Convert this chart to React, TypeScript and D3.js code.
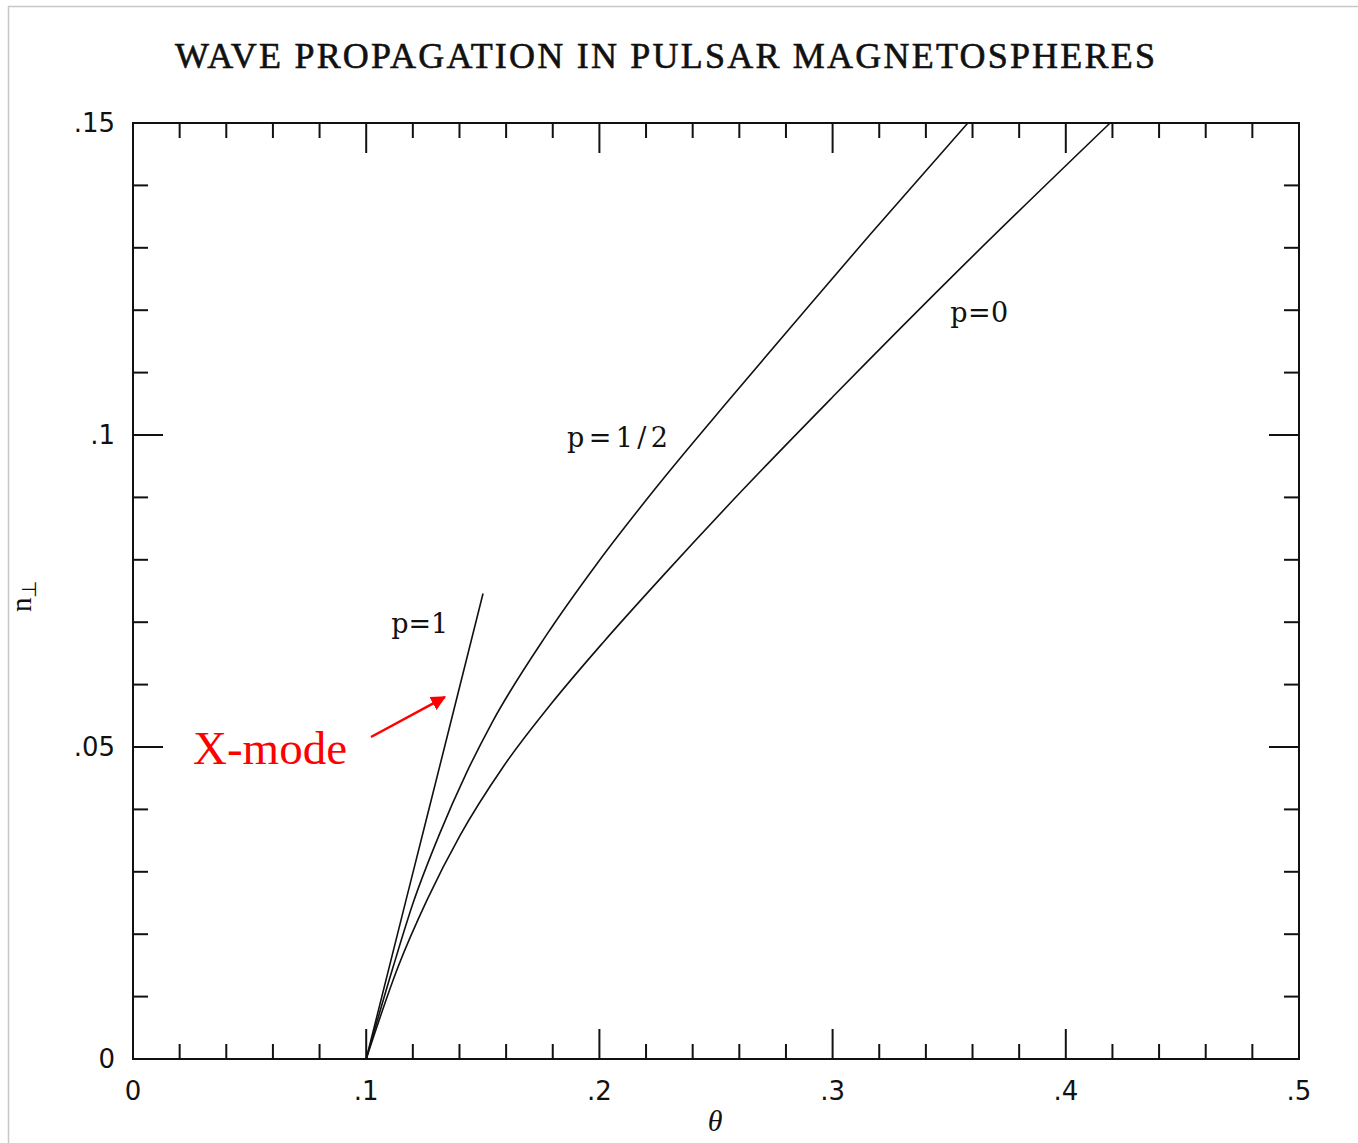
import React from 'react';
import * as d3 from 'd3';

// curves: [theta, n_perp]
const curveP1: [number, number][] = [
  [0.1, 0], [0.1171, 0.0255], [0.1336, 0.05], [0.1501, 0.0746],
];
const curveP12: [number, number][] = [
  [0.1, 0], [0.1115, 0.0147], [0.1201, 0.025], [0.1316, 0.0362], [0.1428, 0.0457],
  [0.1538, 0.0538], [0.1774, 0.068], [0.1988, 0.0793], [0.2246, 0.0917], [0.256, 0.1058],
  [0.286, 0.119], [0.316, 0.1321], [0.358, 0.15],
];
const curveP0: [number, number][] = [
  [0.1, 0], [0.1136, 0.0147], [0.1261, 0.0255], [0.1402, 0.0358], [0.1587, 0.0468],
  [0.1795, 0.057], [0.2017, 0.0668], [0.2274, 0.0775], [0.2617, 0.0913], [0.3003, 0.1062],
  [0.3575, 0.1277], [0.419, 0.15],
];

const curveLabels = ['p=1', 'p=1/2', 'p=0'];
const title = 'WAVE PROPAGATION IN PULSAR MAGNETOSPHERES';
const xDomain: [number, number] = [0, 0.5];
const yDomain: [number, number] = [0, 0.15];

const W = 1358;
const H = 1143;
const margin = { left: 133, right: W - 1299, top: 123, bottom: H - 1059 };

const fmt = (d: number) => (d === 0 ? '0' : d3.format('.2~f')(d).replace(/^0/, ''));

export default function App() {
  const x = d3.scaleLinear().domain(xDomain).range([margin.left, W - margin.right]);
  const y = d3.scaleLinear().domain(yDomain).range([H - margin.bottom, margin.top]);

  const line = d3.line<[number, number]>()
    .x(d => x(d[0]))
    .y(d => y(d[1]))
    .curve(d3.curveMonotoneX);

  const xMinor = x.ticks(25);
  const xMajor = x.ticks(5);
  const yMinor = y.ticks(15);
  const yMajor = y.ticks(3);
  const isMajorX = (v: number) => xMajor.some(m => Math.abs(m - v) < 1e-9);
  const isMajorY = (v: number) => yMajor.some(m => Math.abs(m - v) < 1e-9);

  const x0 = x(xDomain[0]), x1 = x(xDomain[1]);
  const y0 = y(yDomain[0]), y1 = y(yDomain[1]);

  const labelFont = { fontFamily: '"DejaVu Serif", serif', fontSize: 27, fill: '#111' };

  return (
    <svg width={W} height={H} style={{ position: 'absolute', left: 0, top: 0, display: 'block', background: '#fff' }}>
      {/* page border */}
      <rect x={8.5} y={6.5} width={W} height={H} fill="none" stroke="#c8c8c8" strokeWidth={1.5} />

      <text x={175} y={68} textLength={980} lengthAdjust="spacing"
        style={{ fontFamily: '"Liberation Serif", serif', fontSize: 36, fill: '#111' }}
        stroke="#111" strokeWidth={0.6}>
        {title}
      </text>

      {/* frame */}
      <rect x={x0} y={y1} width={x1 - x0} height={y0 - y1} fill="none" stroke="#111" strokeWidth={2} />

      {/* x ticks, bottom and top */}
      {xMinor.map((v, i) => {
        const len = isMajorX(v) ? 30 : 15;
        return (
          <g key={'xt' + i} stroke="#111" strokeWidth={2}>
            <line x1={x(v)} x2={x(v)} y1={y0} y2={y0 - len} />
            <line x1={x(v)} x2={x(v)} y1={y1} y2={y1 + len} />
          </g>
        );
      })}
      {/* y ticks, left and right */}
      {yMinor.map((v, i) => {
        const len = isMajorY(v) ? 30 : 15;
        return (
          <g key={'yt' + i} stroke="#111" strokeWidth={2}>
            <line x1={x0} x2={x0 + len} y1={y(v)} y2={y(v)} />
            <line x1={x1} x2={x1 - len} y1={y(v)} y2={y(v)} />
          </g>
        );
      })}

      {/* tick labels */}
      {xMajor.map((v, i) => (
        <text key={'xl' + i} x={x(v)} y={1100} textAnchor="middle"
          style={{ fontFamily: '"DejaVu Sans", sans-serif', fontSize: 26, fill: '#111' }}>
          {fmt(v)}
        </text>
      ))}
      {yMajor.map((v, i) => (
        <text key={'yl' + i} x={115} y={y(v) + 9} textAnchor="end"
          style={{ fontFamily: '"DejaVu Sans", sans-serif', fontSize: 26, fill: '#111' }}>
          {fmt(v)}
        </text>
      ))}

      {/* axis titles */}
      <text x={715} y={1131} textAnchor="middle"
        style={{ fontFamily: '"Liberation Serif", serif', fontStyle: 'italic', fontSize: 30, fill: '#111' }}>
        θ
      </text>
      <text transform="translate(31,612) rotate(-90)"
        style={{ fontFamily: '"Liberation Serif", serif', fontSize: 29, fill: '#111' }}>
        n<tspan dy={5} fontSize={20}>⊥</tspan>
      </text>

      {/* curves */}
      {[curveP1, curveP12, curveP0].map((c, i) => (
        <path key={'c' + i} d={line(c) || ''} fill="none" stroke="#111" strokeWidth={1.6} />
      ))}

      {/* curve labels */}
      <text x={x(0.1107)} y={y(0.0683)} textLength={57} lengthAdjust="spacing" style={labelFont}>{curveLabels[0]}</text>
      <text x={x(0.1861)} y={y(0.098)} textLength={101} lengthAdjust="spacing" style={labelFont}>{curveLabels[1]}</text>
      <text x={x(0.3504)} y={y(0.1181)} textLength={58} lengthAdjust="spacing" style={labelFont}>{curveLabels[2]}</text>

      {/* X-mode annotation */}
      <defs>
        <marker id="arrowRed" viewBox="0 0 10 10" refX={9} refY={5} markerWidth={6} markerHeight={6}
          markerUnits="strokeWidth" orient="auto">
          <path d="M0,0 L10,5 L0,10 z" fill="#ff0000" />
        </marker>
      </defs>
      <line x1={371} y1={737} x2={x(0.1337)} y2={y(0.058)} stroke="#ff0000" strokeWidth={2.5} markerEnd="url(#arrowRed)" />
      <text x={193} y={764}
        style={{ fontFamily: '"Liberation Serif", serif', fontSize: 47, fill: '#ff0000' }}>
        X-mode
      </text>
    </svg>
  );
}
